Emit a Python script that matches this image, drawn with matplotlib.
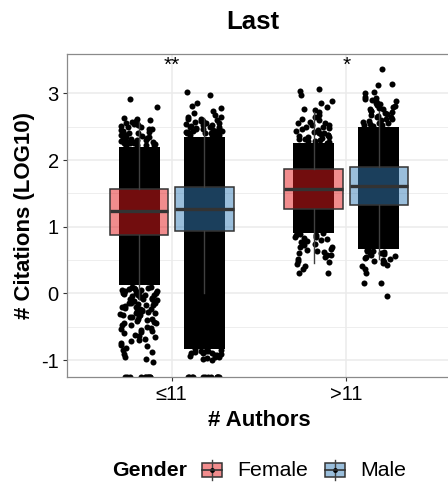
import numpy as np
import matplotlib
matplotlib.use("Agg")
import matplotlib.pyplot as plt
from matplotlib.patches import Rectangle
from matplotlib.lines import Line2D

plt.rcParams['font.family'] = ['Liberation Sans', 'DejaVu Sans']
plt.rcParams['axes.unicode_minus'] = False

W, H = 448, 488

categories = ['≤11', '>11']
genders = ['Female', 'Male']
colors = ['#E41A1C', '#377EB8']

# box stats: (whislo, q1, med, q3, whishi)
box_female = [(-0.08, 0.88, 1.24, 1.57, 2.57), (0.45, 1.27, 1.57, 1.87, 2.72)]
box_male = [(0.00, 0.94, 1.27, 1.60, 2.63), (0.52, 1.33, 1.61, 1.89, 2.74)]

# dense part of each jitter cloud (low, high)
core_female = [(0.12, 2.20), (0.90, 2.25)]
core_male = [(-0.84, 2.35), (0.66, 2.50)]

# sparse points outside the dense part (values at -1.25 sit on the floor)
tail_female_le11 = [2.92, 2.79, 2.63, 2.61, 2.60, 2.58, 2.57, 2.55, 2.54, 2.53, 2.51, 2.50,
                    2.49, 2.47, 2.46, 2.45, 2.44, 2.42, 2.41, 2.40, 2.39, 2.38, 2.37, 2.36,
                    2.35, 2.34, 2.33, 2.32, 2.31, 2.30, 2.30, 2.29, 2.28, 2.27, 2.27, 2.26,
                    2.25, 2.25, 2.24, 2.23, 2.23, 2.22, 2.21,
                    0.10, 0.09, 0.08, 0.08, 0.07, 0.06, 0.05, 0.05, 0.04, 0.03, 0.02, 0.01,
                    0.01, 0.00, -0.01, -0.02, -0.03, -0.03, -0.04, -0.05, -0.06, -0.07,
                    -0.08, -0.08, -0.09, -0.10, -0.11, -0.12, -0.13, -0.14, -0.15, -0.15,
                    -0.16, -0.17, -0.18, -0.19, -0.20, -0.21, -0.22, -0.23, -0.24, -0.25,
                    -0.26, -0.27, -0.28, -0.29, -0.30, -0.31, -0.32, -0.33, -0.34, -0.35,
                    -0.36, -0.38, -0.39, -0.40, -0.41, -0.43, -0.44, -0.45, -0.47, -0.48,
                    -0.50, -0.52, -0.53, -0.55, -0.57, -0.58, -0.60, -0.62, -0.64, -0.66,
                    -0.68, -0.70, -0.72, -0.74, -0.77, -0.79, -0.82, -0.85, -0.88, -0.91,
                    -0.95, -0.99, -1.03,
                    -1.25, -1.25, -1.25, -1.25, -1.25, -1.25, -1.25, -1.25, -1.25, -1.25]
tail_male_le11 = [3.02, 2.98, 2.85, 2.81, 2.78, 2.73, 2.71, 2.67, 2.65, 2.64, 2.62, 2.61,
                  2.60, 2.59, 2.58, 2.57, 2.56, 2.55, 2.54, 2.53, 2.52, 2.51, 2.50, 2.50,
                  2.49, 2.48, 2.47, 2.47, 2.46, 2.45, 2.44, 2.44, 2.43, 2.42, 2.42, 2.41,
                  2.40, 2.40, 2.39, 2.38, 2.38, 2.37, 2.37, 2.36, 2.36, 2.35,
                  -0.84, -0.85, -0.86, -0.87, -0.87, -0.88, -0.89, -0.90, -0.90, -0.91,
                  -0.92, -0.93, -0.94, -0.95, -0.96, -0.97, -0.99, -1.00,
                  -1.25, -1.25, -1.25, -1.25, -1.25, -1.25, -1.25, -1.25, -1.25, -1.25,
                  -1.25, -1.25]
tail_female_gt11 = [3.06, 3.03, 2.98, 2.89, 2.85, 2.80, 2.77, 2.75, 2.72, 2.68, 2.65, 2.62,
                    2.60, 2.57, 2.56, 2.55, 2.53, 2.52, 2.50, 2.49, 2.48, 2.46, 2.45, 2.44,
                    2.42, 2.41, 2.40, 2.39, 2.38, 2.37, 2.36, 2.35, 2.34, 2.33, 2.32, 2.31,
                    2.30, 2.29, 2.28, 2.27, 2.26, 2.25,
                    0.90, 0.89, 0.88, 0.87, 0.85, 0.84, 0.83, 0.81, 0.80, 0.78, 0.77, 0.75,
                    0.74, 0.72, 0.70, 0.69, 0.67, 0.65, 0.64, 0.62, 0.60, 0.58, 0.57, 0.55,
                    0.52, 0.49, 0.47, 0.44, 0.41, 0.37, 0.31, 0.31]
tail_male_gt11 = [3.36, 3.14, 3.12, 3.02, 3.01, 2.95, 2.93, 2.92, 2.90, 2.89, 2.88, 2.86,
                  2.85, 2.84, 2.82, 2.81, 2.80, 2.78, 2.77, 2.76, 2.74, 2.73, 2.72, 2.70,
                  2.69, 2.68, 2.66, 2.65, 2.64, 2.62, 2.61, 2.60, 2.58, 2.57, 2.56, 2.55,
                  2.54, 2.53, 2.52, 2.51,
                  0.66, 0.65, 0.64, 0.63, 0.62, 0.61, 0.60, 0.59, 0.58, 0.56, 0.55, 0.53,
                  0.52, 0.50, 0.49, 0.47, 0.45, 0.42, 0.41, 0.37, 0.31, 0.16, 0.15, -0.04]
tails_female = [tail_female_le11, tail_female_gt11]
tails_male = [tail_male_le11, tail_male_gt11]

signif = ['**', '*']


def fx(x):
    return x / W


def fy(y):
    return 1 - y / H


def jitter(n, half, seed):
    # deterministic spread of x offsets, like position_jitter
    k = np.arange(n) + seed * 1000
    u = (np.sin(k * 12.9898 + 78.233) * 43758.5453) % 1.0
    return half * (2 * u - 1)


fig = plt.figure(figsize=(W / 100, H / 100), dpi=100)
ax = fig.add_axes([fx(67), fy(377), (451 - 67) / W, (377 - 54) / H])
ax.set_xlim(0.4, 2.6)
ax.set_ylim(-1.255, 3.59)

dodge = 0.187
box_w = 0.337
half_jit = 0.108
x = np.arange(1, len(categories) + 1)

for g, (boxes, cores, tails) in enumerate([(box_female, core_female, tails_female),
                                           (box_male, core_male, tails_male)]):
    pos = x + (-dodge if g == 0 else dodge)
    # jitter cloud: dense band + sparse points
    ax.bar(pos, [c[1] - c[0] for c in cores], bottom=[c[0] for c in cores],
           width=2 * half_jit + 0.018, color='black', zorder=2, linewidth=0)
    for i, ys in enumerate(tails):
        off = jitter(len(ys), half_jit, g + 2 * i + 1)
        ax.scatter(pos[i] + off, ys, s=19, c='black', linewidths=0, zorder=2)
    stats = [dict(whislo=b[0], q1=b[1], med=b[2], q3=b[3], whishi=b[4]) for b in boxes]
    bp = ax.bxp(stats, positions=pos, widths=box_w, patch_artist=True,
                showfliers=False, showcaps=False, manage_ticks=False,
                boxprops=dict(edgecolor='#333333', linewidth=1.1),
                medianprops=dict(color='#333333', linewidth=2.4),
                whiskerprops=dict(color='#404040', linewidth=1.0))
    for p in bp['boxes']:
        p.set_facecolor(matplotlib.colors.to_rgba(colors[g], 0.5))
        p.set_zorder(3)
    for l in bp['medians'] + bp['whiskers']:
        l.set_zorder(4)

for i, s in enumerate(signif):
    ax.text(x[i], 3.42, s, ha='center', va='center', fontsize=15)

ax.set_yticks([-1, 0, 1, 2, 3])
ax.set_yticks([-0.5, 0.5, 1.5, 2.5], minor=True)
ax.set_xticks(x)
ax.set_xticklabels(categories)
ax.grid(True, which='major', color='#EBEBEB', linewidth=1.1, zorder=0)
ax.grid(True, which='minor', axis='y', color='#EBEBEB', linewidth=0.6, zorder=0)
ax.set_axisbelow(True)
ax.tick_params(axis='both', which='major', length=3, width=0.8, color='#333333',
               labelsize=14.5, labelcolor='black', pad=3)
ax.tick_params(axis='y', which='minor', length=0)
for sp in ax.spines.values():
    sp.set_color('#8a8a8a')
    sp.set_linewidth(0.9)

ax.set_xlabel('# Authors', fontsize=16, fontweight='bold', labelpad=4)
ax.set_ylabel('# Citations (LOG10)', fontsize=16, fontweight='bold', labelpad=4)
fig.text(fx(252.5), fy(22), 'Last', ha='center', va='center', fontsize=18.5,
         fontweight='bold')

# legend drawn in pixel positions
ly = 470
fig.text(fx(112), fy(ly), 'Gender', ha='left', va='center', fontsize=15.3,
         fontweight='bold')
for g, (kx, tx) in enumerate([(202, 237), (325, 360)]):
    cx = kx + 10
    fig.add_artist(Line2D([fx(cx), fx(cx)], [fy(ly - 10), fy(ly + 10)],
                          transform=fig.transFigure, color='#404040', lw=1.0))
    fig.add_artist(Line2D([fx(cx)], [fy(ly)], transform=fig.transFigure,
                          marker='o', ms=3.5, color='black', mew=0))
    fig.add_artist(Rectangle((fx(kx), fy(ly + 7)), 20 / W, 14 / H,
                             transform=fig.transFigure,
                             facecolor=matplotlib.colors.to_rgba(colors[g], 0.5),
                             edgecolor='#333333', lw=1.1))
    fig.add_artist(Line2D([fx(kx), fx(kx + 20)], [fy(ly), fy(ly)],
                          transform=fig.transFigure, color='#333333', lw=1.2))
    fig.text(fx(tx), fy(ly), genders[g], ha='left', va='center', fontsize=15.3)

fig.savefig('out.png', dpi=100)
